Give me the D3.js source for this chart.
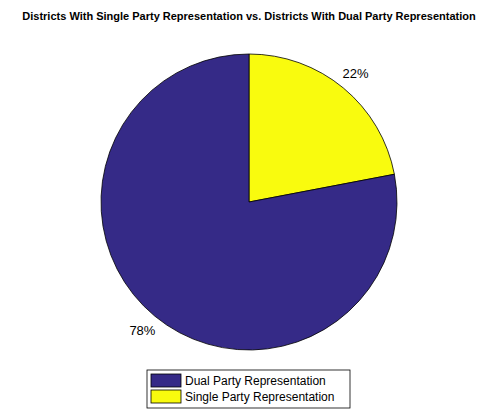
<!DOCTYPE html>
<html><head><meta charset="utf-8">
<script src="https://cdn.jsdelivr.net/npm/d3@7"></script>
<style>body{margin:0;background:#fff}</style></head>
<body><svg id="c" width="498" height="420"></svg>
<script>
const categories = ["Single Party Representation", "Dual Party Representation"];
const values = [22, 78];
const labels = ["22%", "78%"];
const colors = ["#f9fb0e", "#352a87"];
const legendOrder = [1, 0];

const svg = d3.select("#c");
svg.append("text").attr("x", 249).attr("y", 20).attr("text-anchor", "middle")
  .style("font", "bold 11px Arial, 'Liberation Sans', sans-serif").text("Districts With Single Party Representation vs. Districts With Dual Party Representation");

const cx = 249, cy = 202, r = 148;
const g = svg.append("g").attr("transform", `translate(${cx},${cy})`);
const pie = d3.pie().sort(null).value(d => d)(values);
const arc = d3.arc().innerRadius(0).outerRadius(r);
g.selectAll("path").data(pie).join("path")
  .attr("d", arc).attr("fill", (d, i) => colors[i]).attr("stroke", "#000").attr("stroke-width", 0.8);

const lab = d3.arc().innerRadius(r * 1.13).outerRadius(r * 1.13);
g.selectAll("text").data(pie).join("text")
  .attr("transform", d => `translate(${lab.centroid(d)})`)
  .attr("text-anchor", "middle").attr("dy", "0.35em")
  .style("font", "13px Arial, 'Liberation Sans', sans-serif")
  .text((d, i) => labels[i]);

const lg = svg.append("g").attr("transform", "translate(147,370)");
lg.append("rect").attr("width", 203).attr("height", 38).attr("fill", "#fff").attr("stroke", "#000").attr("stroke-width", 0.8);
legendOrder.forEach((k, j) => {
  const y = 4 + j * 16;
  lg.append("rect").attr("x", 4).attr("y", y).attr("width", 30).attr("height", 13)
    .attr("fill", colors[k]).attr("stroke", "#000").attr("stroke-width", 0.8);
  lg.append("text").attr("x", 38).attr("y", y + 11)
    .style("font", "12px Arial, 'Liberation Sans', sans-serif").text(categories[k]);
});
</script></body></html>
